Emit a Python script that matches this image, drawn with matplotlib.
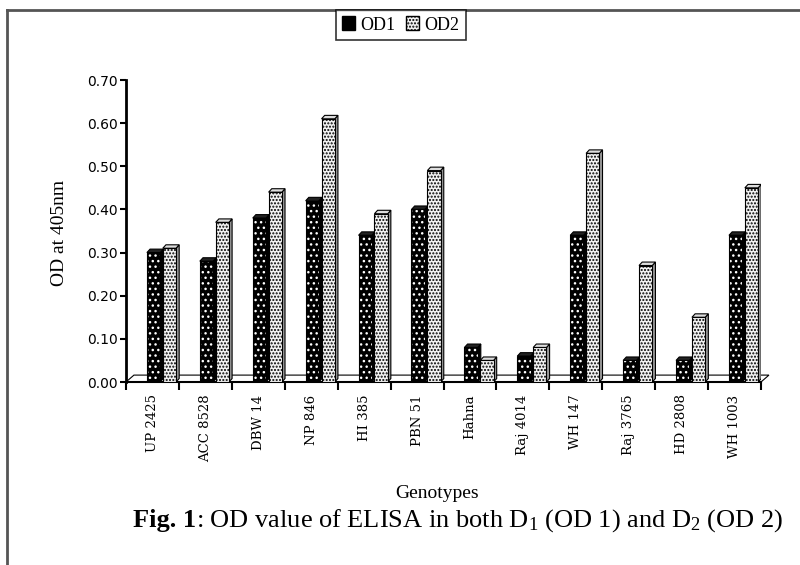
import numpy as np
import matplotlib.pyplot as plt
from matplotlib.patches import Polygon, Patch
from matplotlib.lines import Line2D

# values
genotypes = ['UP 2425', 'ACC 8528', 'DBW 14', 'NP 846', 'HI 385', 'PBN 51',
             'Hahna', 'Raj 4014', 'WH 147', 'Raj 3765', 'HD 2808', 'WH 1003']
od1 = [0.30, 0.28, 0.38, 0.42, 0.34, 0.40, 0.08, 0.06, 0.34, 0.05, 0.05, 0.34]
od2 = [0.31, 0.37, 0.44, 0.61, 0.39, 0.49, 0.05, 0.08, 0.53, 0.27, 0.15, 0.45]
yticks = [0.0, 0.1, 0.2, 0.3, 0.4, 0.5, 0.6, 0.7]

plt.rcParams['mathtext.fontset'] = 'custom'
plt.rcParams['mathtext.rm'] = 'Liberation Serif'
plt.rcParams['mathtext.bf'] = 'Liberation Serif:bold'
plt.rcParams['mathtext.it'] = 'Liberation Serif:italic'
plt.rcParams['hatch.linewidth'] = 1.0

W, H = 800, 565
fig = plt.figure(figsize=(W / 100, H / 100), dpi=100)
ax = fig.add_axes([126 / W, 1 - 382 / H, (761 - 126) / W, (382 - 80) / H])

x = np.arange(len(genotypes))
w = 0.25
shift = 0.17
dx = 0.06   # 3d depth in x (category units)
dy = 0.008  # 3d depth in y (data units)


def bar3d(xc, h, face, hatch, side_col, top_col, z):
    x0, x1 = xc - w / 2, xc + w / 2
    # side and top faces
    ax.add_patch(Polygon([(x1, 0), (x1 + dx, dy), (x1 + dx, h + dy), (x1, h)],
                         closed=True, fc=side_col, ec='black', lw=0.8, zorder=z))
    ax.add_patch(Polygon([(x0, h), (x0 + dx, h + dy), (x1 + dx, h + dy), (x1, h)],
                         closed=True, fc=top_col, ec='black', lw=0.8, zorder=z))
    # front face: hatch first, outline on top
    hcol = 'white' if face == 'black' else 'black'
    ax.bar(xc, h, w, color=face, hatch=hatch, edgecolor=hcol, linewidth=0, zorder=z + 0.1)
    ax.bar(xc, h, w, fill=False, edgecolor='black', linewidth=0.8, zorder=z + 0.2)


for i in range(len(genotypes)):
    bar3d(x[i] + shift - 0.15, od1[i], 'black', '...', 'black', '#222222', 3 + i)
    bar3d(x[i] + shift + 0.15, od2[i], '#f2f2f2', '.....', '#9a9a9a', '#dddddd', 3.5 + i)

# floor of the 3d chart
lo, hi = -0.5, len(genotypes) - 0.5
ax.add_patch(Polygon([(lo, 0), (lo + 0.15, 0.016), (hi + 0.15, 0.016), (hi, 0)],
                     closed=True, fc='white', ec='black', lw=0.8, zorder=1,
                     clip_on=False))

ax.set_xlim(lo, hi)
ax.set_ylim(0, 0.7)
ax.set_yticks(yticks)
ax.set_yticklabels([f'{v:.2f}' for v in yticks], family='DejaVu Sans', fontsize=10)
ax.tick_params(axis='y', direction='out', length=4, width=1.5, pad=2)

ax.set_xticks(np.arange(len(genotypes) + 1) - 0.5)
ax.set_xticklabels([])
ax.set_xticks(x, minor=True)
ax.set_xticklabels(genotypes, minor=True, rotation=90, family='DejaVu Serif',
                   fontsize=9.5, va='top')
ax.tick_params(axis='x', which='major', direction='out', length=6, width=1.5)
ax.tick_params(axis='x', which='minor', length=0, pad=9)

for s in ['top', 'right']:
    ax.spines[s].set_visible(False)
ax.spines['left'].set_linewidth(2)
ax.spines['bottom'].set_linewidth(1.5)
ax.patch.set_visible(False)

handles = [Patch(facecolor='black', edgecolor='black', label='OD1'),
           Patch(facecolor='#f2f2f2', edgecolor='black', hatch='.....', label='OD2')]
leg = fig.legend(handles=handles, loc='upper center', bbox_to_anchor=(401 / W, 1 - 10 / H),
                 ncol=2, frameon=True, fancybox=False, edgecolor='black',
                 prop={'family': 'Liberation Serif', 'size': 13},
                 handlelength=0.7, handleheight=0.8, handletextpad=0.3,
                 columnspacing=0.6, borderpad=0.35, borderaxespad=0)
leg.get_frame().set_linewidth(1.2)

fig.text(60 / W, 1 - 233 / H, 'OD at 405nm', rotation=90, ha='center', va='center',
         family='Liberation Serif', fontsize=14)
fig.text(437 / W, 1 - 493 / H, 'Genotypes', ha='center', va='center',
         family='Liberation Serif', fontsize=14)

# caption: bold "Fig. 1" followed by the rest on the same baseline
cap_y = 1 - 527 / H
t1 = fig.text(133 / W, cap_y, 'Fig. 1', ha='left', va='baseline',
              family='Liberation Serif', fontsize=19, fontweight='bold')
bb = t1.get_window_extent(fig.canvas.get_renderer())
fig.text(bb.x1 / W, cap_y, r': OD value of ELISA in both D$_1$ (OD 1) and D$_2$ (OD 2)',
         ha='left', va='baseline', family='Liberation Serif', fontsize=19)

# page border (top and left)
fig.add_artist(Line2D([7 / W, 1], [1 - 10 / H, 1 - 10 / H], color='#555555', lw=2))
fig.add_artist(Line2D([7 / W, 7 / W], [0, 1 - 10 / H], color='#555555', lw=2))

fig.savefig('out.png', dpi=100, facecolor='white')
